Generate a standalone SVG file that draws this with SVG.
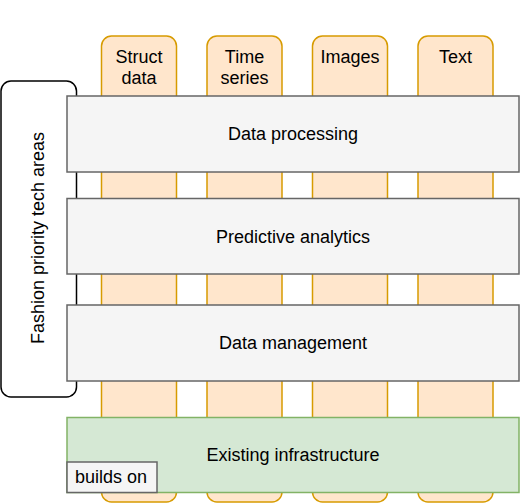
<svg xmlns="http://www.w3.org/2000/svg" width="520" height="504" viewBox="0 0 520 504">
<style>
.col{fill:#ffe6cc;stroke:#d79b00;stroke-width:1.5}
.gray{fill:#f5f5f5;stroke:#666666;stroke-width:1.5}
.green{fill:#d5e8d4;stroke:#82b366;stroke-width:1.5}
.grp{fill:#ffffff;stroke:#000000;stroke-width:1.5}
text{font-family:"Liberation Sans",Arial,sans-serif;font-size:18px;fill:#000000;text-anchor:middle}
</style>
<rect width="520" height="504" fill="#ffffff"/>
<g id="columns">
<g id="col-struct"><rect class="col" x="101.5" y="36" width="75" height="466" rx="10"/><text x="139" y="63">Struct</text><text x="139" y="84">data</text></g>
<g id="col-time"><rect class="col" x="207" y="36" width="75" height="466" rx="10"/><text x="244.5" y="63">Time</text><text x="244.5" y="84">series</text></g>
<g id="col-images"><rect class="col" x="312.5" y="36" width="75" height="466" rx="10"/><text x="350" y="63">Images</text></g>
<g id="col-text"><rect class="col" x="418" y="36" width="75" height="466" rx="10"/><text x="455.5" y="63">Text</text></g>
</g>
<g id="priority-areas"><rect class="grp" x="1" y="81" width="75.5" height="316" rx="10"/><text transform="translate(44 238) rotate(-90)">Fashion priority tech areas</text></g>
<g id="data-processing"><rect class="gray" x="67" y="96" width="452" height="76"/><text x="293" y="140">Data processing</text></g>
<g id="predictive-analytics"><rect class="gray" x="67" y="198.5" width="452" height="75.5"/><text x="293" y="243">Predictive analytics</text></g>
<g id="data-management"><rect class="gray" x="67" y="305" width="452" height="76"/><text x="293" y="349">Data management</text></g>
<g id="existing-infrastructure"><rect class="green" x="67" y="417.5" width="452" height="75"/><text x="293" y="461">Existing infrastructure</text></g>
<g id="builds-on"><rect class="gray" x="67" y="462" width="90" height="30.5"/><text x="111" y="483">builds on</text></g>
<g id="connectors"></g>
</svg>
